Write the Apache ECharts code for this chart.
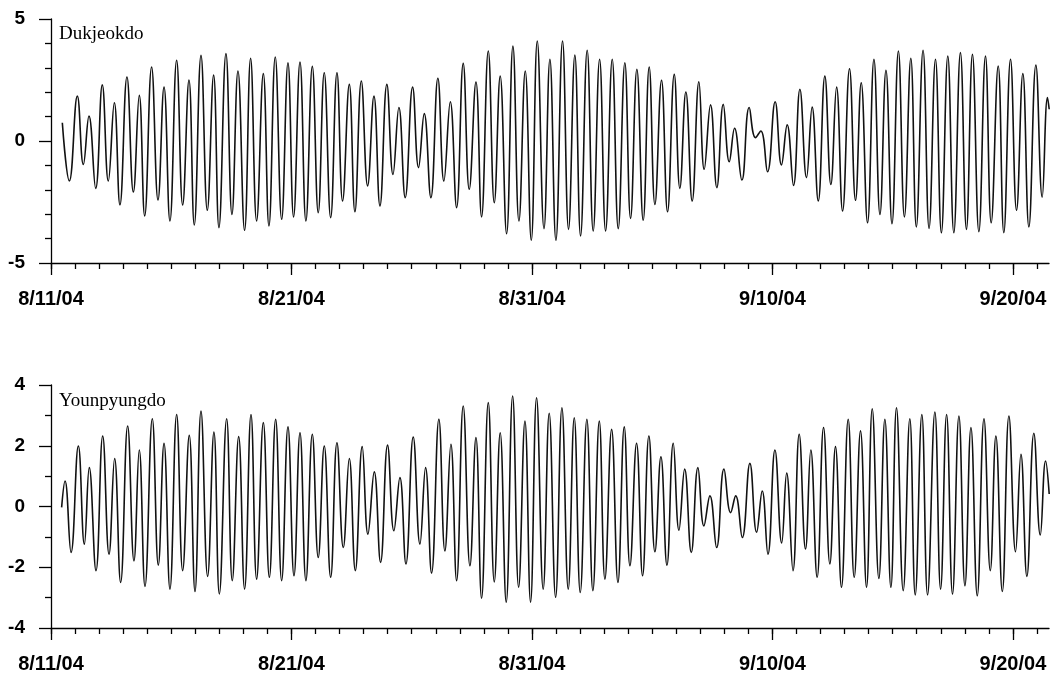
<!DOCTYPE html>
<html>
<head>
<meta charset="utf-8">
<script src="https://cdn.jsdelivr.net/npm/echarts@6/dist/echarts.min.js"></script>
<style>
html,body{margin:0;padding:0;background:#fff;}
#chart{width:1051px;height:675px;}
</style>
</head>
<body>
<div id="chart"></div>
<script>
// x values: hours since 8/11/04 00:00
const tickLabels = ['8/11/04', '8/21/04', '8/31/04', '9/10/04', '9/20/04'];
const majorTickHours = [0, 240, 480, 720, 960];
const stationNames = ['Dukjeokdo', 'Younpyungdo'];

const dukTimes = [
  11.3, 18.3, 26.3, 32.3, 37.9, 44.6, 51.2, 57.2, 63.2, 68.8,
  75.8, 82.2, 88.1, 93.5, 100.4, 106.8, 112.8, 118.7, 125.4, 131.4,
  137.7, 143.0, 149.7, 156.0, 162.3, 167.6, 174.6, 180.6, 186.6, 193.2,
  199.2, 205.2, 211.9, 217.5, 223.8, 230.2, 236.5, 242.1, 248.5, 254.4,
  260.8, 266.7, 272.7, 279.1, 285.4, 291.0, 297.7, 303.3, 309.7, 316.0,
  322.3, 328.3, 335.2, 341.3, 347.2, 353.5, 360.9, 366.8, 372.5, 379.1,
  386.1, 392.1, 398.5, 404.8, 411.4, 417.4, 424.1, 429.7, 436.4, 442.4,
  448.3, 454.7, 461.0, 467.0, 473.3, 479.3, 485.3, 492.0, 497.9, 503.9,
  510.5, 516.5, 522.8, 528.5, 535.1, 541.1, 547.5, 553.5, 560.1, 566.1,
  572.7, 578.4, 584.7, 591.0, 597.0, 602.7, 609.3, 615.3, 622.0, 627.6,
  633.6, 639.9, 646.6, 651.9, 658.2, 664.5, 670.9, 676.9, 682.2, 689.5,
  696.8, 703.1, 708.4, 715.1, 722.7, 729.0, 734.7, 741.0, 747.4, 754.0,
  759.6, 765.7, 772.3, 778.3, 784.0, 790.0, 796.9, 802.9, 808.6, 814.9,
  821.3, 827.3, 833.3, 839.3, 845.7, 851.7, 858.1, 863.6, 870.3, 876.3,
  882.7, 888.6, 895.0, 901.0, 907.6, 913.6, 919.6, 926.0, 932.6, 938.3,
  945.3, 950.9, 957.6, 963.6, 969.9, 975.9, 982.9, 989.2, 994.5, 996.2
];
const dukLevels = [
  0.75, -1.64, 1.84, -0.96, 1.02, -1.94, 2.30, -1.64, 1.57, -2.62,
  2.62, -2.09, 1.87, -3.07, 3.03, -2.42, 2.21, -3.28, 3.31, -2.62,
  2.50, -3.44, 3.51, -2.84, 2.70, -3.55, 3.58, -3.01, 2.87, -3.66,
  3.39, -3.28, 2.76, -3.48, 3.44, -3.21, 3.21, -3.11, 3.24, -3.28,
  3.06, -2.94, 2.80, -3.14, 2.80, -2.46, 2.32, -2.90, 2.46, -1.84,
  1.84, -2.66, 2.32, -1.37, 1.37, -2.32, 2.21, -1.09, 1.12, -2.32,
  2.57, -1.64, 1.61, -2.73, 3.18, -1.98, 2.42, -3.11, 3.69, -2.53,
  2.66, -3.80, 3.89, -3.28, 2.87, -4.07, 4.10, -3.59, 3.35, -4.07,
  4.10, -3.62, 3.52, -3.89, 3.72, -3.69, 3.35, -3.69, 3.35, -3.59,
  3.21, -3.17, 2.94, -3.25, 3.03, -2.60, 2.49, -2.90, 2.73, -1.94,
  2.01, -2.46, 2.43, -1.16, 1.48, -1.91, 1.50, -0.85, 0.52, -1.60,
  1.37, 0.14, 0.41, -1.26, 1.61, -0.98, 0.66, -1.82, 2.12, -1.50,
  1.39, -2.46, 2.66, -1.78, 2.21, -2.87, 2.96, -2.43, 2.39, -3.35,
  3.35, -3.01, 2.90, -3.39, 3.69, -3.11, 3.39, -3.52, 3.72, -3.58,
  3.35, -3.76, 3.48, -3.76, 3.62, -3.62, 3.55, -3.72, 3.48, -3.35,
  3.07, -3.76, 3.35, -2.84, 2.76, -3.52, 3.11, -2.30, 1.78, 1.30
];

const yonTimes = [
  10.6, 14.0, 20.0, 27.3, 33.3, 38.2, 44.9, 51.6, 57.9, 63.5,
  69.5, 76.5, 82.8, 88.1, 93.8, 101.1, 107.1, 112.8, 118.7, 125.4,
  131.4, 138.0, 143.7, 149.7, 156.3, 162.6, 168.0, 175.3, 180.9, 187.3,
  193.2, 199.6, 205.2, 211.9, 217.9, 224.2, 230.2, 236.5, 242.5, 248.5,
  254.4, 260.8, 266.7, 272.7, 279.1, 285.4, 291.7, 297.7, 303.7, 310.6,
  316.3, 322.6, 328.9, 335.9, 342.2, 348.2, 354.2, 361.5, 368.2, 373.8,
  379.8, 387.1, 393.1, 399.1, 404.8, 411.4, 418.1, 424.1, 429.7, 436.4,
  442.4, 448.3, 454.3, 460.7, 466.7, 473.0, 478.6, 484.6, 491.2, 497.2,
  503.6, 509.9, 516.2, 522.2, 528.2, 534.8, 540.8, 547.2, 552.8, 559.5,
  565.8, 572.1, 577.8, 584.4, 590.4, 596.7, 602.7, 608.7, 614.7, 621.0,
  626.7, 632.4, 639.0, 645.6, 651.6, 657.6, 664.3, 671.6, 678.3, 683.3,
  689.9, 697.5, 704.2, 709.8, 715.5, 722.5, 729.2, 734.2, 740.5, 746.7,
  753.0, 758.3, 764.6, 771.0, 777.3, 782.9, 788.9, 795.6, 801.6, 807.9,
  813.9, 819.6, 826.2, 832.2, 838.2, 843.8, 850.5, 857.1, 862.5, 869.1,
  874.8, 882.1, 887.8, 893.8, 899.7, 906.1, 912.1, 918.1, 924.4, 931.1,
  937.4, 943.0, 949.4, 956.0, 962.6, 968.0, 973.9, 980.9, 987.3, 992.6, 996.2
];
const yonLevels = [
  -0.03, 0.84, -1.51, 1.99, -1.24, 1.28, -2.11, 2.32, -1.57, 1.58,
  -2.50, 2.65, -1.79, 1.86, -2.63, 2.89, -1.93, 2.08, -2.72, 3.03,
  -2.11, 2.34, -2.80, 3.14, -2.30, 2.45, -2.88, 2.89, -2.44, 2.30,
  -2.72, 3.03, -2.39, 2.76, -2.33, 2.87, -2.44, 2.62, -2.28, 2.43,
  -2.44, 2.38, -1.68, 1.99, -2.33, 2.10, -1.35, 1.58, -2.11, 1.97,
  -0.91, 1.14, -1.84, 2.02, -0.80, 0.95, -1.89, 2.29, -1.24, 1.28,
  -2.19, 2.87, -1.46, 2.05, -2.44, 3.31, -1.95, 2.27, -3.02, 3.42,
  -2.48, 2.43, -3.15, 3.64, -2.66, 2.81, -3.15, 3.58, -2.72, 3.07,
  -2.99, 3.25, -2.72, 2.92, -2.83, 2.87, -2.77, 2.81, -2.39, 2.54,
  -2.50, 2.62, -1.95, 2.08, -2.28, 2.32, -1.49, 1.64, -1.93, 2.08,
  -0.78, 1.23, -1.51, 1.28, -0.64, 0.35, -1.35, 1.23, -0.20, 0.35,
  -1.02, 1.42, -0.85, 0.51, -1.57, 1.86, -1.20, 1.10, -2.11, 2.38,
  -1.40, 1.86, -2.33, 2.60, -1.89, 1.97, -2.66, 2.87, -2.33, 2.49,
  -2.66, 3.22, -2.37, 2.87, -2.66, 3.25, -2.77, 2.89, -2.91, 3.03,
  -2.91, 3.11, -2.72, 3.03, -2.88, 2.98, -2.61, 2.60, -2.94, 2.89,
  -2.11, 2.32, -2.80, 2.98, -1.49, 1.72, -2.30, 2.41, -0.94, 1.50, 0.41
];

const xMax = 996; // 9/21/04 12:00
const dayTickHours = [];
for (let h = 0; h <= xMax; h += 24) dayTickHours.push(h);

function pairs(t, v) {
  const n = Math.min(t.length, v.length);
  const out = [];
  for (let i = 0; i < n; i++) out.push([t[i], v[i]]);
  return out;
}

const labelFont = { fontFamily: 'Liberation Sans', fontWeight: 'bold', fontSize: 20, color: '#000' };
const axisLineStyle = { color: '#000', width: 1.3 };

function xAxesFor(gridIndex) {
  return [
    {
      type: 'value', gridIndex, min: 0, max: xMax, position: 'bottom',
      axisLine: { show: true, onZero: false, lineStyle: axisLineStyle },
      axisTick: { show: true, length: 12, customValues: majorTickHours, lineStyle: axisLineStyle },
      axisLabel: Object.assign({
        show: true, margin: 26, customValues: majorTickHours,
        formatter: v => tickLabels[majorTickHours.indexOf(v)] || ''
      }, labelFont),
      splitLine: { show: false }
    },
    {
      type: 'value', gridIndex, min: 0, max: xMax, position: 'bottom',
      axisLine: { show: false, onZero: false },
      axisTick: { show: true, length: 6, customValues: dayTickHours, lineStyle: axisLineStyle },
      axisLabel: { show: false },
      splitLine: { show: false }
    }
  ];
}

function yAxisFor(gridIndex, min, max, interval, minorSplit) {
  return {
    type: 'value', gridIndex, min, max, interval,
    axisLine: { show: true, onZero: false, lineStyle: axisLineStyle },
    axisTick: { show: true, length: 12, lineStyle: axisLineStyle },
    minorTick: { show: true, splitNumber: minorSplit, length: 6, lineStyle: axisLineStyle },
    axisLabel: Object.assign({ margin: 26 }, labelFont, { fontSize: 19 }),
    splitLine: { show: false },
    minorSplitLine: { show: false }
  };
}

const lineStyle = { color: '#111', width: 1.6 };

const option = {
  animation: false,
  backgroundColor: '#fff',
  grid: [
    { left: 51, top: 19, width: 998, height: 244 },
    { left: 51, top: 385, width: 998, height: 243 }
  ],
  xAxis: [].concat(xAxesFor(0), xAxesFor(1)),
  yAxis: [
    yAxisFor(0, -5, 5, 5, 5),
    yAxisFor(1, -4, 4, 2, 2)
  ],
  series: [
    {
      name: stationNames[0], type: 'line', xAxisIndex: 0, yAxisIndex: 0,
      data: pairs(dukTimes, dukLevels), showSymbol: false, smooth: 0.45,
      lineStyle, silent: true
    },
    {
      name: stationNames[1], type: 'line', xAxisIndex: 2, yAxisIndex: 1,
      data: pairs(yonTimes, yonLevels), showSymbol: false, smooth: 0.45,
      lineStyle, silent: true
    }
  ],
  graphic: [
    { type: 'text', left: 59, top: 25, style: { text: stationNames[0], font: '19px "Liberation Serif"', fill: '#000' } },
    { type: 'text', left: 59, top: 392, style: { text: stationNames[1], font: '19px "Liberation Serif"', fill: '#000' } }
  ]
};

const chart = echarts.init(document.getElementById('chart'), null, { renderer: 'canvas' });
chart.setOption(option);
</script>
</body>
</html>
